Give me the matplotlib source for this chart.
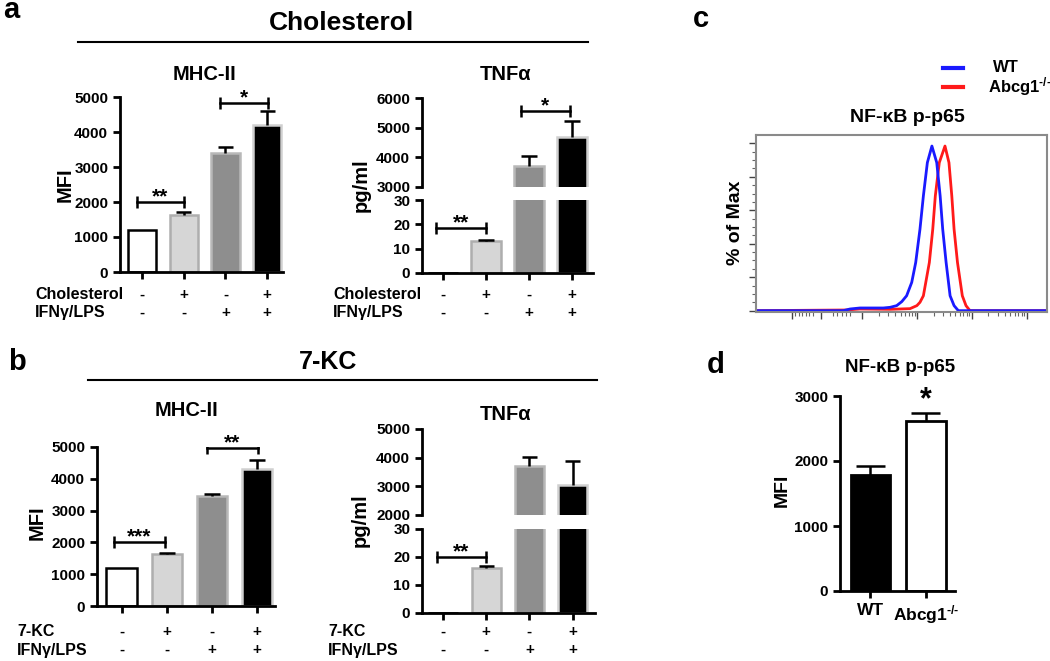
import matplotlib.pyplot as plt
import numpy as np
from matplotlib.transforms import blended_transform_factory

plt.rcParams['font.family'] = ['Liberation Sans', 'DejaVu Sans']
plt.rcParams['font.weight'] = 'bold'
plt.rcParams['axes.labelweight'] = 'bold'
plt.rcParams['mathtext.default'] = 'regular'

W, H = 1050, 661

# ---- data ----
groups = [0, 1, 2, 3]
treat_row = ['-', '+', '-', '+']
ifn_row = ['-', '-', '+', '+']

chol_mhc = [1200, 1620, 3400, 4200]
chol_mhc_err = [0, 100, 170, 400]
chol_tnf = [0, 13, 3700, 4680]
chol_tnf_err = [0, 0.6, 330, 550]

kc_mhc = [1200, 1620, 3450, 4300]
kc_mhc_err = [0, 60, 70, 300]
kc_tnf = [0, 16, 3700, 3050]
kc_tnf_err = [0, 0.9, 330, 820]

# flow histogram (channel, % of max)
wt_x = [2, 307, 331, 366, 448, 472, 495, 513, 530, 548, 562, 577, 589, 603, 619,
        636, 648, 657, 669, 683, 697, 712, 1024]
wt_y = [0, 0, 1.0, 1.6, 1.6, 2.0, 3.0, 5.4, 8.9, 16.9, 28.8, 48.7, 68.6, 88.5, 98.4,
        88.5, 68.6, 48.7, 28.8, 8.9, 3.0, 0, 0]
ko_x = [2, 319, 366, 472, 542, 566, 577, 589, 610, 622, 631, 645, 665, 679, 689,
        697, 709, 726, 739, 753, 1024]
ko_y = [0, 0.4, 1.0, 0.8, 1.2, 3.0, 5.0, 8.9, 28.8, 48.7, 68.6, 88.5, 98.4, 88.5, 68.6,
        48.7, 28.8, 8.9, 3.0, 0, 0]

KO = 'Abcg1$^{\u2010/\u2010}$'
d_groups = ['WT', KO]
d_mfi = [1780, 2620]
d_err = [140, 120]

fills = ['white', '#d6d6d6', '#8e8e8e', 'black']
edges = ['black', '#aeaeae', '#b8b8b8', '#d0d0d0']

fig = plt.figure(figsize=(W / 100, H / 100), dpi=100)


def ax_px(l, t, r, b):
    return fig.add_axes([l / W, 1 - b / H, (r - l) / W, (b - t) / H])


def ftext(x, y, s, **kw):
    fig.text(x / W, 1 - y / H, s, **kw)


def style(ax, bottom=True):
    for s in ['top', 'right']:
        ax.spines[s].set_visible(False)
    ax.spines['left'].set_linewidth(2)
    ax.spines['bottom'].set_linewidth(2)
    if not bottom:
        ax.spines['bottom'].set_visible(False)
        ax.tick_params(axis='x', bottom=False, labelbottom=False)
    ax.tick_params(width=2, length=5, labelsize=11)


def bars(ax, vals, errs, xl, ylim, bottom=True):
    ax.bar(groups, vals, width=0.68, color=fills, edgecolor=edges, linewidth=1.8)
    for x, v, e in zip(groups, vals, errs):
        if e > 0:
            ax.vlines(x, v, v + e, color='black', lw=1.8)
            ax.hlines(v + e, x - 0.18, x + 0.18, color='black', lw=1.8)
    ax.set_xlim(*xl)
    ax.set_ylim(*ylim)
    ax.set_xticks(groups)
    ax.set_xticklabels([])
    style(ax, bottom)


def bracket(ax, x0, x1, y, txt, size=15):
    ax.plot([x0, x1], [y, y], color='black', lw=1.8, marker='|', markersize=8, mew=1.8)
    ax.annotate(txt, xy=((x0 + x1) / 2, y), xytext=(0, -3), textcoords='offset points',
                ha='center', va='bottom', fontsize=size, fontweight='bold')


def rows(ax, label_x, y1, y2, name):
    tr = blended_transform_factory(ax.transData, fig.transFigure)
    for x, a, b in zip(groups, treat_row, ifn_row):
        ax.text(x, 1 - y1 / H, a, transform=tr, ha='center', va='center', fontsize=11)
        ax.text(x, 1 - y2 / H, b, transform=tr, ha='center', va='center', fontsize=11)
    ftext(label_x, y1, name, ha='left', va='center', fontsize=11.5)
    ftext(label_x, y2, 'IFN\u03b3/LPS', ha='left', va='center', fontsize=11.5)


# ---- panel a ----
ftext(3, 18, 'a', fontsize=21, va='baseline', ha='left')
ftext(341, 23, 'Cholesterol', fontsize=19, ha='center', va='center')
fig.add_artist(plt.Line2D([78 / W, 588 / W], [1 - 42 / H, 1 - 42 / H], color='black', lw=1.5))

ax = ax_px(120, 97, 283, 272)
bars(ax, chol_mhc, chol_mhc_err, (-0.53, 3.38), (0, 5000))
ax.set_yticks([0, 1000, 2000, 3000, 4000, 5000])
bracket(ax, -0.12, 1.0, 2000, '**')
bracket(ax, 1.87, 3.02, 4830, '*')
ftext(205, 75, 'MHC-II', fontsize=14.5, ha='center', va='center')
ftext(65, 185, 'MFI', fontsize=14.5, rotation=90, ha='center', va='center')
rows(ax, 35, 295, 313, 'Cholesterol')

axt = ax_px(422, 98, 593, 187)
bars(axt, chol_tnf, chol_tnf_err, (-0.49, 3.49), (3000, 6000), bottom=False)
axt.set_yticks([3000, 4000, 5000, 6000])
bracket(axt, 1.81, 2.95, 5560, '*')
axb = ax_px(422, 200, 593, 273)
bars(axb, chol_tnf, chol_tnf_err, (-0.49, 3.49), (0, 30))
axb.set_yticks([0, 10, 20, 30])
bracket(axb, -0.16, 1.0, 18.5, '**')
ftext(506, 75, 'TNF\u03b1', fontsize=14.5, ha='center', va='center')
ftext(361, 185, 'pg/ml', fontsize=14.5, rotation=90, ha='center', va='center')
rows(axb, 333, 295, 313, 'Cholesterol')

# ---- panel b ----
ftext(8, 370, 'b', fontsize=21, va='baseline', ha='left')
ftext(328, 362, '7-KC', fontsize=18, ha='center', va='center')
fig.add_artist(plt.Line2D([88 / W, 597 / W], [1 - 380 / H, 1 - 380 / H], color='black', lw=1.5))

ax = ax_px(97, 447, 275, 606)
bars(ax, kc_mhc, kc_mhc_err, (-0.55, 3.4), (0, 5000))
ax.set_yticks([0, 1000, 2000, 3000, 4000, 5000])
bracket(ax, -0.18, 0.96, 2000, '***')
bracket(ax, 1.88, 3.02, 4970, '**')
ftext(187, 410, 'MHC-II', fontsize=14.5, ha='center', va='center')
ftext(37, 523, 'MFI', fontsize=14.5, rotation=90, ha='center', va='center')
rows(ax, 17, 632, 650, '7-KC')

axt = ax_px(422, 429, 595, 515)
bars(axt, kc_tnf, kc_tnf_err, (-0.49, 3.52), (2000, 5000), bottom=False)
axt.set_yticks([2000, 3000, 4000, 5000])
axb = ax_px(422, 529, 595, 613)
bars(axb, kc_tnf, kc_tnf_err, (-0.49, 3.52), (0, 30))
axb.set_yticks([0, 10, 20, 30])
bracket(axb, -0.14, 0.99, 20, '**')
ftext(506, 415, 'TNF\u03b1', fontsize=14.5, ha='center', va='center')
ftext(360, 520, 'pg/ml', fontsize=14.5, rotation=90, ha='center', va='center')
rows(axb, 328, 632, 650, '7-KC')

# ---- panel c ----
ftext(693, 27, 'c', fontsize=21, va='baseline', ha='left')
axc = ax_px(756, 135, 1047, 312)
axc.plot(ko_x, ko_y, color='#ff1a1a', lw=2)
axc.plot(wt_x, wt_y, color='#1a1aff', lw=2)
axc.set_xlim(0, 1024)
axc.set_ylim(-0.8, 105)
for s in axc.spines.values():
    s.set_color('#8a8a8a')
    s.set_linewidth(1.5)
axc.set_yticks(np.arange(0, 101, 20))
axc.set_yticks(np.arange(0, 101, 5), minor=True)
major_x = [127, 229, 374, 567, 760, 954]
minor_x = list(np.linspace(137, 200, 6)) + list(np.linspace(271, 331, 5))
for d0 in [374, 567, 760]:
    minor_x += [d0 + 193 * np.log10(k) for k in range(2, 10)]
axc.set_xticks(major_x)
axc.set_xticks(minor_x, minor=True)
axc.tick_params(which='major', length=5, width=1, color='#444444', labelleft=False, labelbottom=False)
axc.tick_params(which='minor', length=3, width=0.8, color='#666666')
ftext(907, 117, 'NF-\u03baB p-p65', fontsize=14, ha='center', va='center')
ftext(735, 223, '% of Max', fontsize=14, rotation=90, ha='center', va='center')
fig.add_artist(plt.Line2D([943 / W, 963 / W], [1 - 68 / H] * 2, color='#1a1aff', lw=3))
fig.add_artist(plt.Line2D([943 / W, 963 / W], [1 - 87 / H] * 2, color='#ff1a1a', lw=3))
ftext(993, 68, 'WT', fontsize=12, ha='left', va='center')
ftext(988, 87, KO, fontsize=12, ha='left', va='center')

# ---- panel d ----
ftext(707, 373, 'd', fontsize=21, va='baseline', ha='left')
axd = ax_px(840, 396, 955, 591)
axd.bar([0, 1], d_mfi, width=0.7, color=['black', 'white'], edgecolor='black', linewidth=2)
for x, v, e in zip([0, 1], d_mfi, d_err):
    axd.vlines(x, v, v + e, color='black', lw=1.8)
    axd.hlines(v + e, x - 0.26, x + 0.26, color='black', lw=1.8)
axd.set_xlim(-0.54, 1.52)
axd.set_ylim(0, 3000)
axd.set_yticks([0, 1000, 2000, 3000])
axd.set_xticks([0, 1])
axd.set_xticklabels(d_groups, fontsize=12.5, fontweight='bold')
style(axd)
axd.tick_params(axis='x', labelsize=12.5)
axd.annotate('*', xy=(1, 2740), xytext=(0, -2), textcoords='offset points',
             ha='center', va='bottom', fontsize=22, fontweight='bold')
ftext(900, 368, 'NF-\u03baB p-p65', fontsize=13.5, ha='center', va='center')
ftext(782, 490, 'MFI', fontsize=14, rotation=90, ha='center', va='center')

fig.savefig('out.png', dpi=100)
